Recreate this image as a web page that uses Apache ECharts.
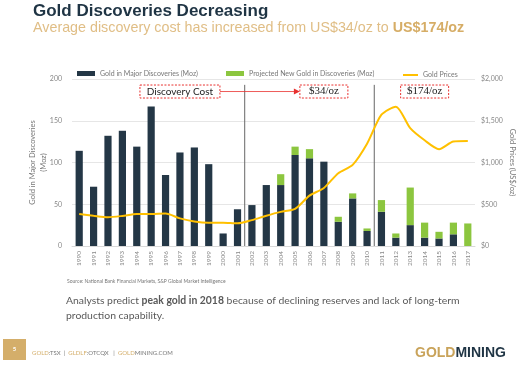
<!DOCTYPE html>
<html><head><meta charset="utf-8">
<script src="https://cdn.jsdelivr.net/npm/echarts@6/dist/echarts.min.js"></script>
<style>html,body{margin:0;padding:0;background:#fff}#c{width:524px;height:366px}</style>
</head><body><div id="c"></div>
<script>
const years = ['1990','1991','1992','1993','1994','1995','1996','1997','1998','1999','2000','2001','2002','2003','2004','2005','2006','2007','2008','2009','2010','2011','2012','2013','2014','2015','2016','2017'];
const majorDiscoveries = [114,71,132,138,119,167,85,112,118,98,15,44,49,73,73,109,105,101,29,57,18,41,10,25,10,9,14,0];
const projectedNew = [0,0,0,0,0,0,0,0,0,0,0,0,0,0,13,10,11,0,6,6,3,14,5,45,18,8,14,27];
const goldPrices = [384,362,344,360,384,384,388,331,294,279,279,271,310,363,409,444,603,695,872,972,1225,1572,1669,1411,1266,1160,1251,1257];
const leftTicks = [0,50,100,150,200];
const rightTicks = [0,500,1000,1500,2000];
const seriesNames = ['Gold in Major Discoveries (Moz)','Projected New Gold in Discoveries (Moz)','Gold Prices'];

const FONT = 'Lato';
const chart = echarts.init(document.getElementById('c'), null, {renderer:'canvas'});
const legendBase = {top:70, itemHeight:5, itemWidth:18, icon:'rect', textStyle:{fontSize:7,color:'#777',fontFamily:FONT}, padding:0};
const option = {
  animation:false,
  textStyle:{fontFamily:FONT},
  grid:{left:72, right:47, top:79, bottom:120},
  legend:[
    Object.assign({}, legendBase, {data:[seriesNames[0]], left:77}),
    Object.assign({}, legendBase, {data:[seriesNames[1]], left:226}),
    Object.assign({}, legendBase, {data:[seriesNames[2]], left:403, top:71.5, itemWidth:15, itemHeight:2})
  ],
  xAxis:{type:'category', data:years,
    axisLine:{show:true, lineStyle:{color:'#d9d9d9'}}, axisTick:{show:false},
    axisLabel:{rotate:90, fontSize:6.5, color:'#888', margin:5, fontFamily:FONT}},
  yAxis:[
    {type:'value', min:0, max:200, interval:50,
     name:'Gold in Major Discoveries\n(Moz)', nameLocation:'middle', nameRotate:90, nameGap:23, nameMoveOverlap:false,
     nameTextStyle:{fontSize:7.5, color:'#777', lineHeight:11, fontFamily:FONT},
     axisLabel:{fontSize:7, color:'#888', margin:10, fontFamily:FONT},
     splitLine:{lineStyle:{color:'#e6e6e6'}}, axisLine:{show:false}, axisTick:{show:false}},
    {type:'value', min:0, max:2000, interval:500,
     name:'Gold Prices (US$/oz)', nameLocation:'middle', nameRotate:-90, nameGap:33, nameMoveOverlap:false,
     nameTextStyle:{fontSize:7.5, color:'#777', fontFamily:FONT},
     axisLabel:{fontSize:7, color:'#888', margin:6, fontFamily:FONT,
       formatter:v=>'$'+v.toLocaleString('en-US')},
     splitLine:{show:false}, axisLine:{show:false}, axisTick:{show:false}}
  ],
  series:[
    {name:seriesNames[0], type:'bar', stack:'a', data:majorDiscoveries, barWidth:'50%', itemStyle:{color:'#243746'}},
    {name:seriesNames[1], type:'bar', stack:'a', data:projectedNew, barWidth:'50%', itemStyle:{color:'#8cc63f'}},
    {name:seriesNames[2], type:'line', yAxisIndex:1, data:goldPrices, symbol:'none', smooth:0.25,
     lineStyle:{color:'#ffc000', width:2}, itemStyle:{color:'#ffc000'}, z:5}
  ]
};
chart.setOption(option);

const px = (cat, v) => chart.convertToPixel({xAxisIndex:0, yAxisIndex:0}, [cat, v]);
const midX = (a,b) => (px(a,0)[0] + px(b,0)[0]) / 2;
const yTop = px('1990',193)[1], yBase = px('1990',0)[1];
const boxY = px('1990',185)[1];
const red = '#e8312f';
function box(cat, text, w, font){
  const cx = px(cat,0)[0];
  return [
    {type:'rect', shape:{x:cx-w/2, y:boxY-6.5, width:w, height:13}, style:{fill:'#fff', stroke:red, lineWidth:1, lineDash:[2,1.5]}, z:10},
    {type:'text', x:cx, y:boxY, style:{text:text, fill:'#222', font:font, align:'center', verticalAlign:'middle'}, z:11}
  ];
}
const dcX = px('1997',0)[0];
const c34 = px('2007',0)[0];
const graphics = [
  {type:'text', left:33, top:3, style:{text:'Gold Discoveries Decreasing', fill:'#1f3444', font:'bold 17px "Liberation Sans", Arial'}},
  {type:'text', left:33, top:21, style:{text:'{a|Average discovery cost has increased from US$34/oz to }{b|US$174/oz}',
     rich:{a:{fill:'#e0be86', font:'14.3px "Liberation Sans", Arial'}, b:{fill:'#d6ad66', font:'bold 14.3px "Liberation Sans", Arial'}}}},
  {type:'line', shape:{x1:midX('2001','2002'), y1:yTop, x2:midX('2001','2002'), y2:yBase}, style:{stroke:'#666', lineWidth:1}, z:4},
  {type:'line', shape:{x1:midX('2010','2011'), y1:yTop, x2:midX('2010','2011'), y2:yBase}, style:{stroke:'#666', lineWidth:1}, z:4},
  {type:'line', shape:{x1:dcX+40, y1:boxY, x2:c34-28, y2:boxY}, style:{stroke:red, lineWidth:0.8}, z:9},
  {type:'polygon', shape:{points:[[c34-24,boxY],[c34-30,boxY-3],[c34-30,boxY+3]]}, style:{fill:red}, z:9},
  ...box('1997','Discovery Cost',80,'10px Lato'),
  ...box('2007','$34/oz',48,'11px "Liberation Serif"'),
  ...box('2014','$174/oz',48,'11px "Liberation Serif"'),
  {type:'text', left:67, top:279, style:{text:'Source: National Bank Financial Markets, S&P Global Market Intelligence', fill:'#777', font:'5px Lato'}},
  {type:'text', left:66, top:296, style:{text:'{a|Analysts predict }{b|peak gold in 2018}{a| because of declining reserves and lack of long-term}\n{a|production capability.}',
     rich:{a:{fill:'#595959', font:'10.4px Lato', lineHeight:15}, b:{fill:'#595959', font:'bold 10.4px Lato', lineHeight:15}}}},
  {type:'rect', shape:{x:3, y:339, width:23, height:21}, style:{fill:'#d4ae6a'}},
  {type:'text', x:14.5, y:349.5, style:{text:'5', fill:'#fff', font:'bold 6px Lato', align:'center', verticalAlign:'middle'}},
  {type:'text', left:32, top:350, style:{text:'{g|GOLD}{t|:TSX  |  }{g|GLDLF}{t|:OTCQX   |  }{g|GOLD}{t|MINING.COM}',
     rich:{g:{fill:'#d4ae6a', font:'6px Lato'}, t:{fill:'#777', font:'6px Lato'}}}},
  {type:'text', left:415, top:346, style:{text:'{g|GOLD}{m|MINING}',
     rich:{g:{fill:'#c9a35a', font:'bold 14px "Liberation Sans"'}, m:{fill:'#1f3444', font:'bold 14px "Liberation Sans"'}}}}
];
chart.setOption({graphic:graphics});
</script></body></html>
